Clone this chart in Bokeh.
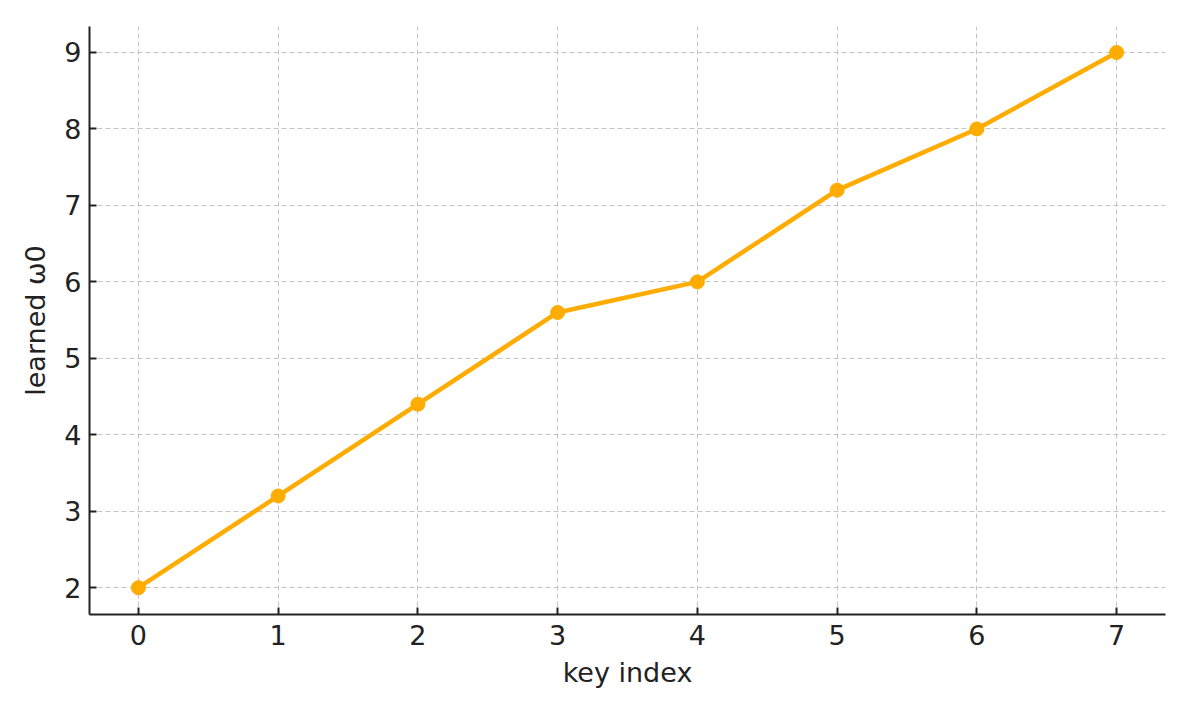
from bokeh.plotting import figure
from bokeh.models import Range1d, FixedTicker
from bokeh.embed import file_html
from bokeh.resources import INLINE

key_index = [0, 1, 2, 3, 4, 5, 6, 7]
learned_w0 = [2.0, 3.2, 4.4, 5.6, 6.0, 7.2, 8.0, 9.0]
x_ticks = [0, 1, 2, 3, 4, 5, 6, 7]
y_ticks = [2, 3, 4, 5, 6, 7, 8, 9]

color = "#FFAC00"
font = "DejaVu Sans"

p = figure(width=1182, height=706, output_backend="svg", toolbar_location=None,
           x_range=Range1d(-0.35, 7.35), y_range=Range1d(1.65, 9.34),
           min_border_left=89, min_border_right=17, min_border_top=26, min_border_bottom=92)
p.outline_line_color = None

p.line(key_index, learned_w0, line_color=color, line_width=4.5)
p.scatter(key_index, learned_w0, size=14, fill_color=color, line_color=color)

for ax in (p.xaxis, p.yaxis):
    ax.axis_line_color = "#222222"
    ax.axis_line_width = 2
    ax.major_tick_line_color = "#222222"
    ax.major_tick_line_width = 2
    ax.major_tick_in = 7
    ax.major_tick_out = 0
    ax.minor_tick_line_color = None
    ax.major_label_text_font = font
    ax.major_label_text_font_size = "27px"
    ax.major_label_text_color = "#222222"
    ax.axis_label_text_font = font
    ax.axis_label_text_font_size = "27px"
    ax.axis_label_text_font_style = "normal"
    ax.axis_label_text_color = "#222222"

p.xaxis.ticker = FixedTicker(ticks=x_ticks)
p.yaxis.ticker = FixedTicker(ticks=y_ticks)
p.xaxis.axis_label = "key index"
p.yaxis.axis_label = "learned ω0"
p.xaxis.major_label_standoff = 10
p.yaxis.major_label_standoff = 8
p.xaxis.axis_label_standoff = 9
p.yaxis.axis_label_standoff = 10

for g in (p.xgrid, p.ygrid):
    g.grid_line_color = "#c4c4c4"
    g.grid_line_dash = "5 3"
    g.grid_line_width = 1

open("out.html", "w").write(file_html(p, INLINE))
